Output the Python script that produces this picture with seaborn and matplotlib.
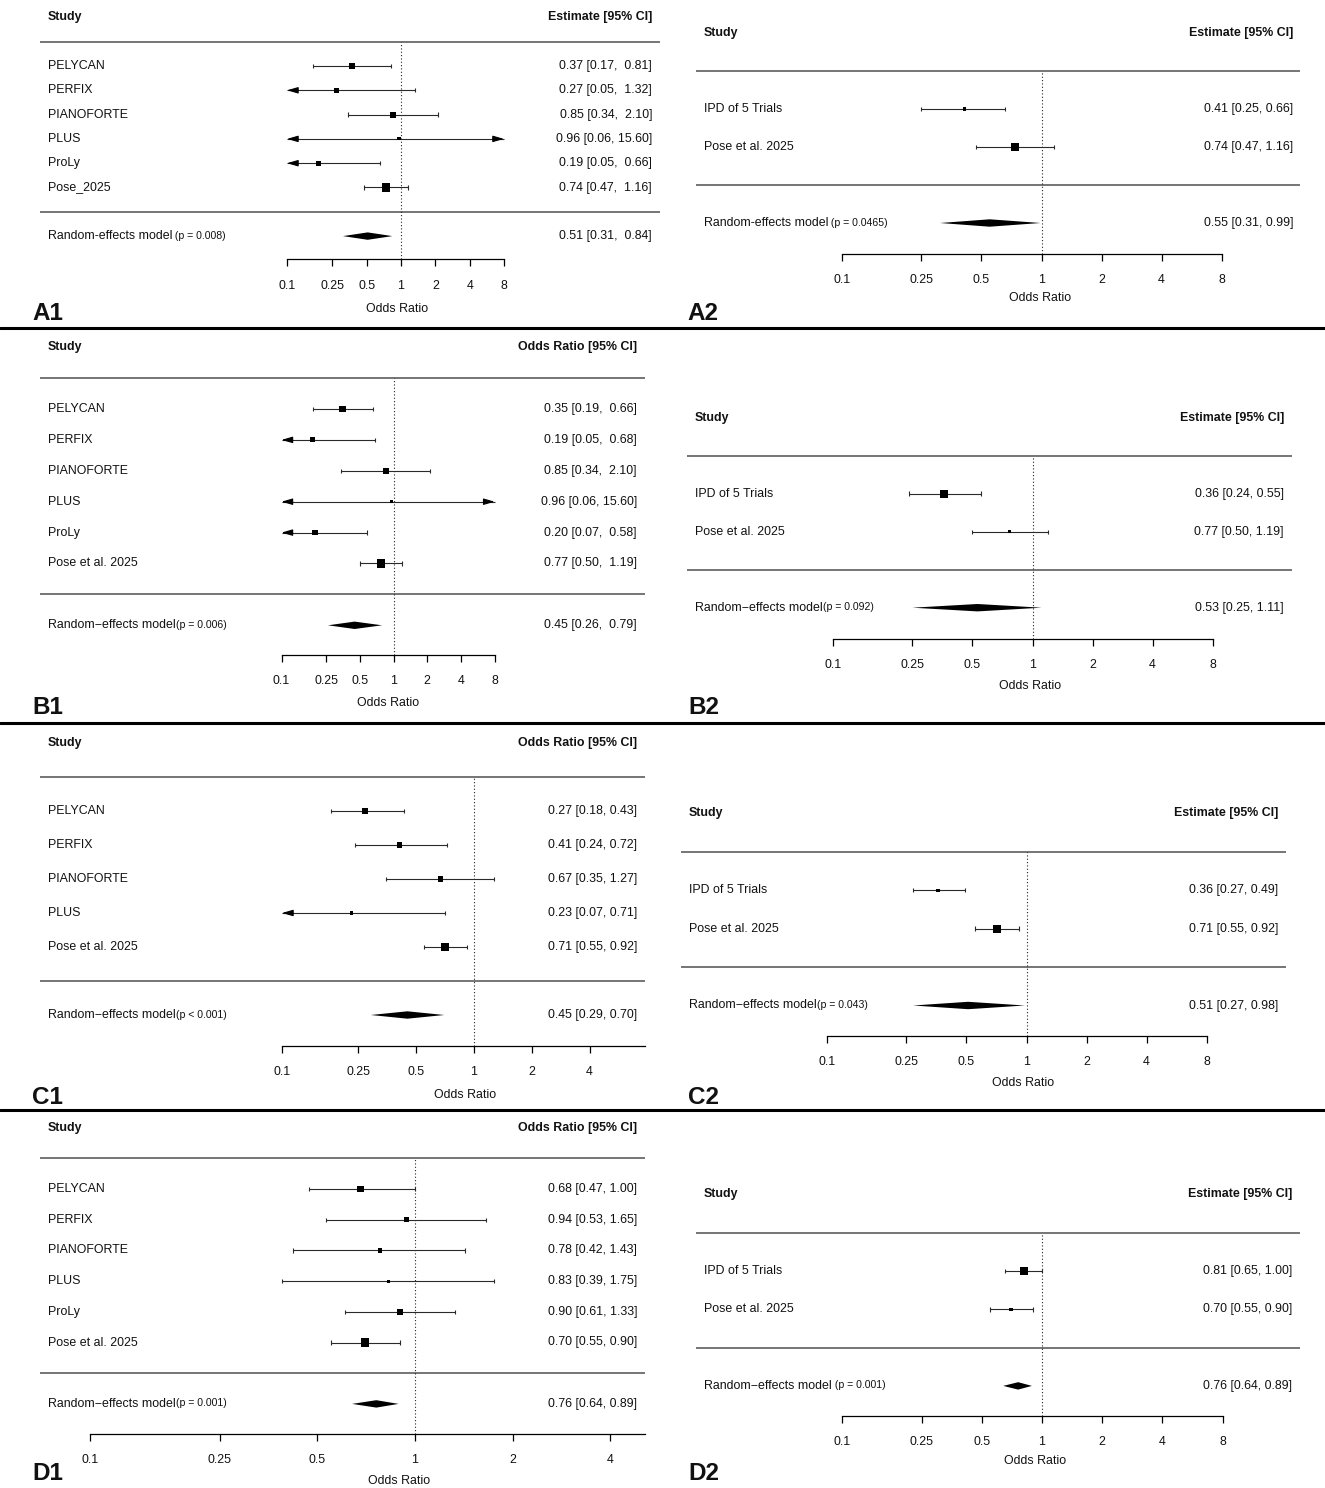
import numpy as np
import pandas as pd
import matplotlib
matplotlib.use("Agg")
import matplotlib.pyplot as plt
import seaborn as sns
from matplotlib.lines import Line2D
from matplotlib.ticker import NullLocator

# ---------------- data ----------------
studies_A1 = ["PELYCAN", "PERFIX", "PIANOFORTE", "PLUS", "ProLy", "Pose_2025"]
est_A1 = [0.37, 0.27, 0.85, 0.96, 0.19, 0.74]
lo_A1 = [0.17, 0.05, 0.34, 0.06, 0.05, 0.47]
hi_A1 = [0.81, 1.32, 2.10, 15.60, 0.66, 1.16]
re_A1 = [0.51, 0.31, 0.84]
p_A1 = " (p = 0.008)"

studies_A2 = ["IPD of 5 Trials", "Pose et al. 2025"]
est_A2 = [0.41, 0.74]
lo_A2 = [0.25, 0.47]
hi_A2 = [0.66, 1.16]
re_A2 = [0.55, 0.31, 0.99]
p_A2 = " (p = 0.0465)"

studies_B1 = ["PELYCAN", "PERFIX", "PIANOFORTE", "PLUS", "ProLy", "Pose et al. 2025"]
est_B1 = [0.35, 0.19, 0.85, 0.96, 0.20, 0.77]
lo_B1 = [0.19, 0.05, 0.34, 0.06, 0.07, 0.50]
hi_B1 = [0.66, 0.68, 2.10, 15.60, 0.58, 1.19]
re_B1 = [0.45, 0.26, 0.79]
p_B1 = "(p = 0.006)"

studies_B2 = ["IPD of 5 Trials", "Pose et al. 2025"]
est_B2 = [0.36, 0.77]
lo_B2 = [0.24, 0.50]
hi_B2 = [0.55, 1.19]
re_B2 = [0.53, 0.25, 1.11]
p_B2 = "(p = 0.092)"

studies_C1 = ["PELYCAN", "PERFIX", "PIANOFORTE", "PLUS", "Pose et al. 2025"]
est_C1 = [0.27, 0.41, 0.67, 0.23, 0.71]
lo_C1 = [0.18, 0.24, 0.35, 0.07, 0.55]
hi_C1 = [0.43, 0.72, 1.27, 0.71, 0.92]
re_C1 = [0.45, 0.29, 0.70]
p_C1 = "(p < 0.001)"

studies_C2 = ["IPD of 5 Trials", "Pose et al. 2025"]
est_C2 = [0.36, 0.71]
lo_C2 = [0.27, 0.55]
hi_C2 = [0.49, 0.92]
re_C2 = [0.51, 0.27, 0.98]
p_C2 = "(p = 0.043)"

studies_D1 = ["PELYCAN", "PERFIX", "PIANOFORTE", "PLUS", "ProLy", "Pose et al. 2025"]
est_D1 = [0.68, 0.94, 0.78, 0.83, 0.90, 0.70]
lo_D1 = [0.47, 0.53, 0.42, 0.39, 0.61, 0.55]
hi_D1 = [1.00, 1.65, 1.43, 1.75, 1.33, 0.90]
re_D1 = [0.76, 0.64, 0.89]
p_D1 = "(p = 0.001)"

studies_D2 = ["IPD of 5 Trials", "Pose et al. 2025"]
est_D2 = [0.81, 0.70]
lo_D2 = [0.65, 0.55]
hi_D2 = [1.00, 0.90]
re_D2 = [0.76, 0.64, 0.89]
p_D2 = " (p = 0.001)"

ticks_wide = [0.1, 0.25, 0.5, 1, 2, 4, 8]
ticklabels_wide = ["0.1", "0.25", "0.5", "1", "2", "4", "8"]
ticks_short = [0.1, 0.25, 0.5, 1, 2, 4]
ticklabels_short = ["0.1", "0.25", "0.5", "1", "2", "4"]

RE_HYPHEN = "Random-effects model"
RE_MINUS = "Random\u2212effects model"
HEAD_EST = "Estimate [95% CI]"
HEAD_OR = "Odds Ratio [95% CI]"

# ---------------- layout (pixels) ----------------
W, H = 1325, 1488
LAYOUT = {
    "A1": dict(box=(0, 662, 0, 328), px1=401, D=114, first=66, s=24.3, axis_py=259.5,
               left=48, right=652, hl=(40, 660), xlab=(397, 309), lab=(32, 313), axis_end=None),
    "A2": dict(box=(662, 1325, 0, 328), px1=1041.5, D=199.5, first=109, s=38, axis_py=253.5,
               left=704, right=1293, hl=(696, 1300), xlab=(1040, 298), lab=(687, 313), axis_end=None),
    "B1": dict(box=(0, 662, 328, 723), px1=393.5, D=112, first=409, s=30.9, axis_py=655,
               left=48, right=637, hl=(40, 645), xlab=(388, 703), lab=(32, 708), axis_end=None),
    "B2": dict(box=(662, 1325, 328, 723), px1=1032.5, D=199.5, first=493.7, s=38, axis_py=639,
               left=695, right=1284, hl=(687, 1292), xlab=(1030, 686), lab=(688, 708), axis_end=None),
    "C1": dict(box=(0, 662, 723, 1110), px1=474, D=192, first=811, s=34, axis_py=1046,
               left=48, right=637, hl=(40, 645), xlab=(465, 1094.5), lab=(32, 1097), axis_end=645),
    "C2": dict(box=(662, 1325, 723, 1110), px1=1026.5, D=199.5, first=890.3, s=38.4, axis_py=1035.5,
               left=689, right=1278, hl=(681, 1286), xlab=(1023, 1083.5), lab=(688, 1097), axis_end=None),
    "D1": dict(box=(0, 662, 1110, 1488), px1=415, D=324.5, first=1189, s=30.7, axis_py=1433.5,
               left=48, right=637, hl=(40, 645), xlab=(399, 1481.5), lab=(32, 1473), axis_end=645.5),
    "D2": dict(box=(662, 1325, 1110, 1488), px1=1042, D=200, first=1271, s=38.3, axis_py=1416,
               left=704, right=1292, hl=(696, 1300), xlab=(1035, 1461.5), lab=(688, 1473), axis_end=None),
}

PANELS = [
    ("A1", studies_A1, est_A1, lo_A1, hi_A1, re_A1, RE_HYPHEN, p_A1, HEAD_EST, ticks_wide, ticklabels_wide),
    ("A2", studies_A2, est_A2, lo_A2, hi_A2, re_A2, RE_HYPHEN, p_A2, HEAD_EST, ticks_wide, ticklabels_wide),
    ("B1", studies_B1, est_B1, lo_B1, hi_B1, re_B1, RE_MINUS, p_B1, HEAD_OR, ticks_wide, ticklabels_wide),
    ("B2", studies_B2, est_B2, lo_B2, hi_B2, re_B2, RE_MINUS, p_B2, HEAD_EST, ticks_wide, ticklabels_wide),
    ("C1", studies_C1, est_C1, lo_C1, hi_C1, re_C1, RE_MINUS, p_C1, HEAD_OR, ticks_short, ticklabels_short),
    ("C2", studies_C2, est_C2, lo_C2, hi_C2, re_C2, RE_MINUS, p_C2, HEAD_EST, ticks_wide, ticklabels_wide),
    ("D1", studies_D1, est_D1, lo_D1, hi_D1, re_D1, RE_MINUS, p_D1, HEAD_OR, ticks_short, ticklabels_short),
    ("D2", studies_D2, est_D2, lo_D2, hi_D2, re_D2, RE_MINUS, p_D2, HEAD_EST, ticks_wide, ticklabels_wide),
]

# ---------------- style ----------------
sns.set_theme(style="white")
plt.rcParams["font.family"] = ["Liberation Sans", "DejaVu Sans"]
FS = 8.9
TXT = "#111111"
LINE = "#2a2a2a"
ARROW = dict(arrowstyle="-|>,head_length=0.55,head_width=0.16",
             fc="black", ec="black", lw=0.8, shrinkA=0, shrinkB=0)

fig = plt.figure(figsize=(W / 100, H / 100), dpi=100)
fig.patch.set_facecolor("white")


def draw_panel(key, studies, est, lo, hi, re, re_label, p_text, head, ticks, ticklabels):
    L = LAYOUT[key]
    x0, x1, y0, y1 = L["box"]
    k = len(studies)
    ax = fig.add_axes([x0 / W, 1 - y1 / H, (x1 - x0) / W, (y1 - y0) / H])
    ax.patch.set_alpha(0)

    def fx(px):
        return 10 ** ((px - L["px1"]) / L["D"])

    def fy(py):
        return k - (py - L["first"]) / L["s"]

    ax.set_xscale("log")
    ax.set_xlim(fx(x0), fx(x1))
    ax.set_ylim(fy(y1), fy(y0))

    rows = np.arange(k, 0, -1)
    est = np.asarray(est, float)
    lo = np.asarray(lo, float)
    hi = np.asarray(hi, float)
    alo, ahi = ticks[0], ticks[-1]
    axis_row = fy(L["axis_py"])

    # header and separators
    ax.text(fx(L["left"]), k + 2, "Study", ha="left", va="center", fontsize=FS,
            fontweight="bold", color=TXT)
    ax.text(fx(L["right"]), k + 2, head, ha="right", va="center", fontsize=FS,
            fontweight="bold", color=TXT)
    ax.hlines([k + 1, 0], fx(L["hl"][0]), fx(L["hl"][1]), color="#6a6a6a", lw=1.3)

    # reference line
    ax.vlines(1, axis_row, k + 1, color="#222222", lw=0.8, linestyles=(0, (1, 2)))

    # CI formatting (R style padding)
    wh = max(len(f"{v:.2f}") for v in list(hi) + [re[2]])
    wl = max(len(f"{v:.2f}") for v in list(lo) + [re[1]])

    def fmt(e, l, h):
        return f"{e:.2f} [" + f"{l:.2f}".rjust(wl) + ", " + f"{h:.2f}".rjust(wh) + "]"

    cap = 2.2 / L["s"]
    for r, e, l, h, name in zip(rows, est, lo, hi, studies):
        a = max(l, alo)
        b = min(h, ahi)
        ax.plot([a, b], [r, r], color=LINE, lw=0.8, solid_capstyle="butt")
        if l >= alo:
            ax.vlines(l, r - cap, r + cap, color=LINE, lw=0.8)
        else:
            ax.annotate("", xy=(alo, r), xytext=(8, 0), textcoords="offset points", arrowprops=ARROW)
        if h <= ahi:
            ax.vlines(h, r - cap, r + cap, color=LINE, lw=0.8)
        else:
            ax.annotate("", xy=(ahi, r), xytext=(-8, 0), textcoords="offset points", arrowprops=ARROW)
        ax.text(fx(L["left"]), r, name, ha="left", va="center", fontsize=FS, color=TXT)
        ax.text(fx(L["right"]), r, fmt(e, l, h), ha="right", va="center", fontsize=FS, color=TXT)

    # square sizes from precision
    se = (np.log(hi) - np.log(lo)) / (2 * 1.96)
    wi = 1 / se
    n = (wi - wi.min()) / (wi.max() - wi.min())
    side_pt = (3.2 + 4.9 * n ** 0.6) * 0.72
    df = pd.DataFrame({"est": est, "row": rows})
    sns.scatterplot(data=df, x="est", y="row", marker="s", s=side_pt ** 2, color="black",
                    linewidth=0, ax=ax, legend=False, zorder=5)

    # random-effects diamond
    hd = 3.7 / L["s"]
    ax.fill([re[1], re[0], re[2], re[0]], [-1, -1 + hd, -1, -1 - hd], color="black", lw=0)
    t = ax.text(fx(L["left"]), -1, re_label, ha="left", va="center", fontsize=FS, color=TXT)
    ax.annotate(p_text, xy=(1, 0.12), xycoords=t, ha="left", va="bottom", fontsize=7.6, color=TXT)
    ax.text(fx(L["right"]), -1, fmt(*re), ha="right", va="center", fontsize=FS, color=TXT)

    # x axis
    for sp in ["left", "right", "top"]:
        ax.spines[sp].set_visible(False)
    ax.spines["bottom"].set_position(("data", axis_row))
    end = fx(L["axis_end"]) if L["axis_end"] else ticks[-1]
    ax.spines["bottom"].set_bounds(ticks[0], end)
    ax.spines["bottom"].set_color("black")
    ax.spines["bottom"].set_linewidth(0.9)
    ax.set_xticks(ticks)
    ax.set_xticklabels(ticklabels)
    ax.xaxis.set_minor_locator(NullLocator())
    ax.set_yticks([])
    ax.tick_params(axis="x", bottom=True, direction="out", length=5.3, width=0.9,
                   pad=9.3, labelsize=FS, colors="black", labelcolor=TXT)
    ax.set_xlabel("")
    ax.set_ylabel("")
    ax.text(fx(L["xlab"][0]), fy(L["xlab"][1]), "Odds Ratio", ha="center", va="center",
            fontsize=FS, color=TXT)

    fig.text(L["lab"][0] / W, 1 - L["lab"][1] / H, key, ha="left", va="center",
             fontsize=17.5, fontweight="bold", color="#111111")


for spec in PANELS:
    draw_panel(*spec)

for ypx in [328, 723, 1110]:
    fig.add_artist(Line2D([0, 1], [1 - ypx / H] * 2, transform=fig.transFigure,
                          color="black", lw=2.2))

fig.savefig("out.png", dpi=100, facecolor="white")
